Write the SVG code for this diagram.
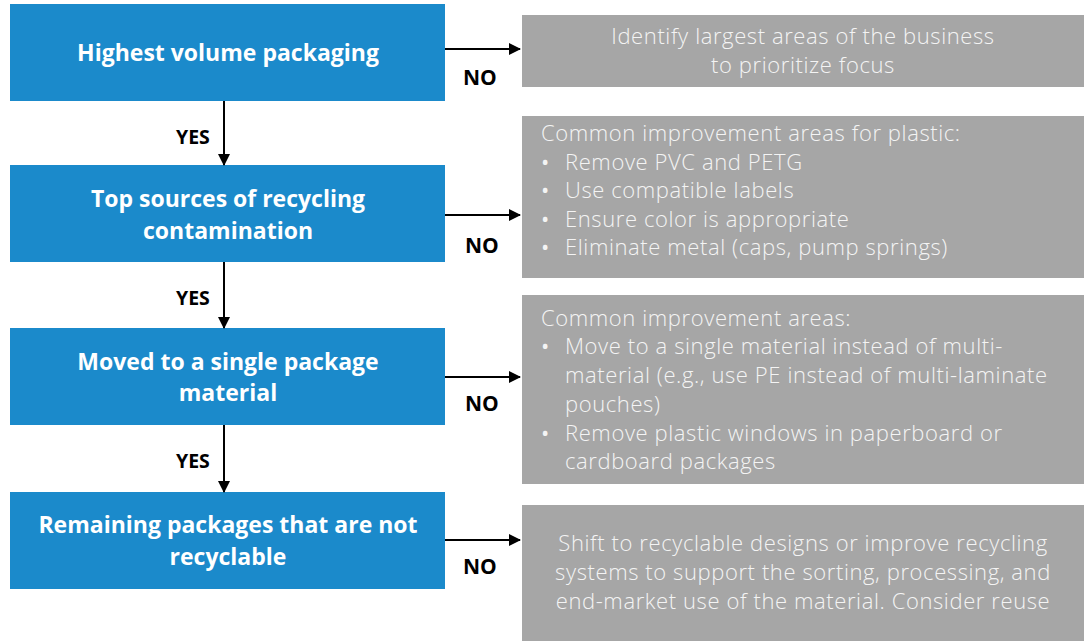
<svg xmlns="http://www.w3.org/2000/svg" width="1084" height="641" viewBox="0 0 1084 641">
<defs>
<marker id="ah" markerWidth="12" markerHeight="12" refX="11" refY="6" orient="auto" markerUnits="userSpaceOnUse">
<path d="M0,0 L12,6 L0,12 Z" fill="#000"/>
</marker>
<style>
.blue{fill:#1B8ACB}
.grey{fill:#A6A6A6}
.bt{font-family:"Open Sans",Lato,sans-serif;font-weight:700;font-size:23px;fill:#fff;text-anchor:middle}
.gt{font-family:"Open Sans",Lato,sans-serif;font-weight:300;font-size:22px;letter-spacing:0.6px;fill:#F4F4F4}
.bu{font-weight:400}
.gc{text-anchor:middle}
.lab{font-family:"Open Sans",Lato,sans-serif;font-weight:700;font-size:19.5px;fill:#000}
.no{font-size:21px}
.con{stroke:#000;stroke-width:2;fill:none;marker-end:url(#ah)}
</style>
</defs>
<rect width="1084" height="641" fill="#fff"/>
<g id="q1"><rect class="blue" x="10" y="4" width="435" height="97"/><text class="bt" x="228" y="61">Highest volume packaging</text></g>
<g id="q2"><rect class="blue" x="10" y="165" width="435" height="97"/><text class="bt" x="228" y="207">Top sources of recycling</text><text class="bt" x="228" y="239">contamination</text></g>
<g id="q3"><rect class="blue" x="10" y="328" width="435" height="97"/><text class="bt" x="228" y="370">Moved to a single package</text><text class="bt" x="228" y="401">material</text></g>
<g id="q4"><rect class="blue" x="10" y="492" width="435" height="97"/><text class="bt" x="228" y="533">Remaining packages that are not</text><text class="bt" x="228" y="565">recyclable</text></g>
<g id="a1"><rect class="grey" x="522" y="15" width="562" height="72"/><text class="gt gc" x="803" y="44">Identify largest areas of the business</text><text class="gt gc" x="803" y="73">to prioritize focus</text></g>
<g id="a2"><rect class="grey" x="522" y="116" width="562" height="162"/>
<text class="gt" x="541" y="141">Common improvement areas for plastic:</text>
<text class="gt bu" x="541" y="170">•</text><text class="gt" x="565" y="170">Remove PVC and PETG</text>
<text class="gt bu" x="541" y="198">•</text><text class="gt" x="565" y="198">Use compatible labels</text>
<text class="gt bu" x="541" y="227">•</text><text class="gt" x="565" y="227">Ensure color is appropriate</text>
<text class="gt bu" x="541" y="255">•</text><text class="gt" x="565" y="255">Eliminate metal (caps, pump springs)</text></g>
<g id="a3"><rect class="grey" x="522" y="295" width="562" height="189"/>
<text class="gt" x="541" y="326">Common improvement areas:</text>
<text class="gt bu" x="541" y="354">•</text><text class="gt" x="565" y="354">Move to a single material instead of multi-</text>
<text class="gt" x="565" y="383">material (e.g., use PE instead of multi-laminate</text>
<text class="gt" x="565" y="412">pouches)</text>
<text class="gt bu" x="541" y="441">•</text><text class="gt" x="565" y="441">Remove plastic windows in paperboard or</text>
<text class="gt" x="565" y="469">cardboard packages</text></g>
<g id="a4"><rect class="grey" x="522" y="505" width="562" height="136"/>
<text class="gt gc" x="803" y="551">Shift to recyclable designs or improve recycling</text>
<text class="gt gc" x="803" y="580">systems to support the sorting, processing, and</text>
<text class="gt gc" x="803" y="609">end-market use of the material. Consider reuse</text></g>
<g id="connectors">
<line class="con" x1="224" y1="101" x2="224" y2="165"/>
<line class="con" x1="224" y1="262" x2="224" y2="328"/>
<line class="con" x1="224" y1="425" x2="224" y2="492"/>
<line class="con" x1="445" y1="49" x2="520" y2="49"/>
<line class="con" x1="445" y1="215" x2="520" y2="215"/>
<line class="con" x1="445" y1="377" x2="520" y2="377"/>
<line class="con" x1="445" y1="540" x2="520" y2="540"/>
<text class="lab" x="176" y="144">YES</text>
<text class="lab" x="176" y="305">YES</text>
<text class="lab" x="176" y="468">YES</text>
<text class="lab no" x="463" y="85">NO</text>
<text class="lab no" x="465" y="253">NO</text>
<text class="lab no" x="465" y="411">NO</text>
<text class="lab no" x="463" y="574">NO</text>
</g>
</svg>
